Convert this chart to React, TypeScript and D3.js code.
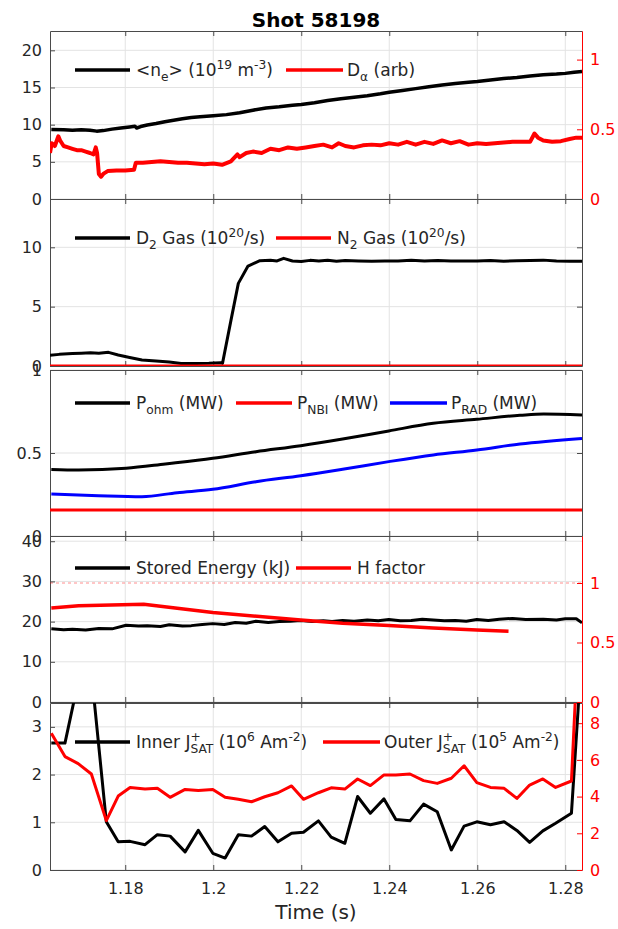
import React, { useRef, useEffect } from 'react';
import * as d3 from 'd3';

// ---------- data ----------
const xDomain = [1.1629, 1.2838];
const xTicks = [1.18, 1.2, 1.22, 1.24, 1.26, 1.28];

// panel 1: line averaged density and D-alpha
const neTime = [1.1632, 1.166, 1.168, 1.17, 1.172, 1.1735, 1.175, 1.177, 1.179, 1.181, 1.1822, 1.1826, 1.1835, 1.185, 1.187, 1.189, 1.191, 1.193, 1.195, 1.197, 1.2, 1.203, 1.206, 1.209, 1.212, 1.215, 1.218, 1.22, 1.223, 1.226, 1.229, 1.232, 1.235, 1.238, 1.24, 1.243, 1.246, 1.249, 1.252, 1.255, 1.258, 1.26, 1.263, 1.266, 1.269, 1.272, 1.275, 1.278, 1.28, 1.282, 1.2838];
const neValue = [9.35, 9.3, 9.25, 9.3, 9.25, 9.13, 9.2, 9.4, 9.55, 9.7, 9.8, 9.55, 9.75, 9.95, 10.15, 10.4, 10.6, 10.8, 10.95, 11.05, 11.2, 11.35, 11.6, 11.95, 12.25, 12.4, 12.6, 12.7, 12.95, 13.25, 13.5, 13.7, 13.9, 14.15, 14.35, 14.6, 14.85, 15.1, 15.35, 15.55, 15.7, 15.8, 16.0, 16.2, 16.35, 16.55, 16.7, 16.8, 16.9, 17.05, 17.15];

const daTime = [1.1629, 1.1633, 1.164, 1.1648, 1.1652, 1.166, 1.167, 1.168, 1.169, 1.17, 1.171, 1.172, 1.1728, 1.1733, 1.1736, 1.174, 1.1745, 1.175, 1.176, 1.178, 1.18, 1.182, 1.1824, 1.184, 1.186, 1.188, 1.19, 1.192, 1.194, 1.196, 1.198, 1.2, 1.202, 1.204, 1.2055, 1.206, 1.2075, 1.209, 1.211, 1.213, 1.215, 1.217, 1.219, 1.221, 1.223, 1.225, 1.227, 1.2285, 1.23, 1.232, 1.234, 1.236, 1.238, 1.24, 1.242, 1.244, 1.246, 1.248, 1.25, 1.252, 1.254, 1.256, 1.258, 1.26, 1.262, 1.264, 1.266, 1.268, 1.27, 1.272, 1.273, 1.2738, 1.275, 1.277, 1.279, 1.281, 1.2825, 1.2838];
const daValue = [0.33, 0.4, 0.38, 0.45, 0.42, 0.38, 0.37, 0.36, 0.35, 0.35, 0.34, 0.33, 0.32, 0.37, 0.33, 0.18, 0.16, 0.18, 0.2, 0.205, 0.205, 0.21, 0.26, 0.26, 0.265, 0.27, 0.265, 0.26, 0.26, 0.255, 0.25, 0.255, 0.245, 0.27, 0.32, 0.3, 0.33, 0.34, 0.33, 0.36, 0.35, 0.37, 0.36, 0.37, 0.38, 0.39, 0.37, 0.4, 0.38, 0.37, 0.385, 0.39, 0.385, 0.4, 0.39, 0.41, 0.39, 0.41, 0.395, 0.42, 0.4, 0.415, 0.39, 0.4, 0.395, 0.4, 0.405, 0.41, 0.41, 0.41, 0.47, 0.44, 0.42, 0.41, 0.415, 0.43, 0.44, 0.44];

// panel 2: gas puffing
const d2Time = [1.1629, 1.165, 1.168, 1.17, 1.1721, 1.174, 1.1762, 1.1784, 1.181, 1.1838, 1.187, 1.19, 1.1927, 1.196, 1.199, 1.2017, 1.2021, 1.204, 1.2057, 1.2079, 1.2106, 1.213, 1.2145, 1.216, 1.218, 1.22, 1.222, 1.224, 1.226, 1.228, 1.23, 1.233, 1.236, 1.239, 1.242, 1.245, 1.248, 1.251, 1.254, 1.257, 1.26, 1.263, 1.266, 1.269, 1.272, 1.275, 1.278, 1.281, 1.2838];
const d2Value = [0.9, 0.98, 1.05, 1.08, 1.12, 1.08, 1.15, 0.93, 0.72, 0.5, 0.42, 0.33, 0.22, 0.22, 0.23, 0.27, 0.22, 3.8, 6.96, 8.42, 8.87, 8.9, 8.85, 9.07, 8.85, 8.8, 8.9, 8.85, 8.9, 8.82, 8.88, 8.85, 8.83, 8.85, 8.85, 8.9, 8.85, 8.88, 8.85, 8.84, 8.85, 8.88, 8.83, 8.86, 8.88, 8.92, 8.85, 8.82, 8.82];
const n2Time = [1.1629, 1.2838];
const n2Value = [0, 0];

// panel 3: heating and radiated power
const pohmTime = [1.1632, 1.1694, 1.1802, 1.1891, 1.1999, 1.2097, 1.2199, 1.2294, 1.2399, 1.25, 1.2599, 1.2697, 1.2751, 1.2838];
const pohmValue = [0.4, 0.397, 0.408, 0.434, 0.468, 0.508, 0.544, 0.584, 0.633, 0.679, 0.703, 0.727, 0.735, 0.729];
const pnbiTime = [1.1629, 1.2838];
const pnbiValue = [0.157, 0.157];
const pradTime = [1.1632, 1.1739, 1.1838, 1.1918, 1.1999, 1.2097, 1.2199, 1.2294, 1.2399, 1.25, 1.2599, 1.2697, 1.2838];
const pradValue = [0.253, 0.243, 0.237, 0.261, 0.281, 0.327, 0.363, 0.402, 0.448, 0.488, 0.518, 0.554, 0.588];

// panel 4: stored energy and H factor
const wTime = [1.1632, 1.166, 1.168, 1.171, 1.174, 1.177, 1.1802, 1.183, 1.185, 1.188, 1.19, 1.193, 1.195, 1.1975, 1.1999, 1.2025, 1.205, 1.2075, 1.2097, 1.2125, 1.215, 1.2175, 1.2199, 1.2225, 1.225, 1.227, 1.2294, 1.232, 1.235, 1.2375, 1.2399, 1.2425, 1.245, 1.2475, 1.25, 1.2525, 1.255, 1.2575, 1.2599, 1.2625, 1.265, 1.268, 1.271, 1.275, 1.278, 1.28, 1.2825, 1.2838];
const wValue = [18.25, 18.0, 18.1, 17.9, 18.3, 18.2, 19.1, 18.9, 19.0, 18.8, 19.2, 18.9, 19.0, 19.3, 19.5, 19.3, 19.8, 19.6, 20.1, 19.8, 20.0, 20.1, 20.3, 20.0, 20.2, 20.0, 20.3, 20.1, 20.4, 20.2, 20.5, 20.2, 20.3, 20.6, 20.4, 20.2, 20.3, 20.1, 20.5, 20.3, 20.6, 20.8, 20.5, 20.6, 20.4, 20.7, 20.7, 19.7];
const hTime = [1.1632, 1.1694, 1.1842, 1.1999, 1.2199, 1.2294, 1.2399, 1.25, 1.2599, 1.2671];
const hValue = [0.789, 0.808, 0.822, 0.753, 0.689, 0.661, 0.642, 0.622, 0.606, 0.594];
const hReference = 1;

// panel 5: divertor ion saturation current
const jTime = [1.1632, 1.1663, 1.1693, 1.1723, 1.1757, 1.1784, 1.1811, 1.1845, 1.1873, 1.1902, 1.1936, 1.1966, 1.1999, 1.2027, 1.2057, 1.2087, 1.2117, 1.2147, 1.2178, 1.2205, 1.2239, 1.2268, 1.2299, 1.2328, 1.2357, 1.2388, 1.2415, 1.2447, 1.2478, 1.2509, 1.2541, 1.257, 1.2599, 1.263, 1.2661, 1.269, 1.2719, 1.2749, 1.2778, 1.2814, 1.2844];
const innerJsat = [2.66, 2.66, 3.95, 4.15, 1.01, 0.59, 0.6, 0.53, 0.74, 0.71, 0.38, 0.83, 0.35, 0.25, 0.74, 0.71, 0.91, 0.59, 0.77, 0.79, 1.03, 0.69, 0.56, 1.54, 1.19, 1.49, 1.06, 1.03, 1.38, 1.22, 0.42, 0.92, 1.01, 0.95, 1.01, 0.83, 0.58, 0.82, 0.98, 1.19, 5.5];
const outerJsat = [7.45, 6.18, 5.8, 5.23, 2.69, 4.03, 4.5, 4.41, 4.45, 3.96, 4.39, 4.33, 4.39, 3.96, 3.85, 3.72, 3.99, 4.21, 4.58, 3.85, 4.21, 4.48, 4.41, 4.96, 4.6, 5.18, 5.18, 5.23, 4.87, 4.72, 5.0, 5.68, 4.76, 4.5, 4.45, 3.9, 4.63, 4.96, 4.5, 4.85, 20];

// ---------- layout ----------
const WIDTH = 618;
const HEIGHT = 929;
const PLOT_LEFT = 50;
const PLOT_RIGHT = 582;
const FONT = "'DejaVu Sans', sans-serif";
const TEXT = '#262626';
const AXIS = '#4a4a4a';
const GRID = '#e3e3e3';
const RED = '#ff0000';
const BLUE = '#0000ff';
const TICK_FONT = 16;
const LEGEND_FONT = 17;

const panels = [
  {
    top: 31, bottom: 199,
    left: { domain: [0, 22.6], ticks: [0, 5, 10, 15, 20] },
    right: { domain: [0, 1.205], ticks: [0, 0.5, 1] },
    series: [
      { t: neTime, v: neValue, axis: 'left', color: 'black', width: 3.5 },
      { t: daTime, v: daValue, axis: 'right', color: RED, width: 4 },
    ],
    legendY: 70,
    legend: [
      { color: 'black', x0: 75, x1: 130, tx: 136, parts: [['<n', ''], ['e', 'sub'], ['> (10', ''], ['19', 'sup'], [' m', ''], ['-3', 'sup'], [')', '']] },
      { color: RED, x0: 286, x1: 343, tx: 347, parts: [['D', ''], ['α', 'sub'], [' (arb)', '']] },
    ],
  },
  {
    top: 199, bottom: 366,
    left: { domain: [0, 14.07], ticks: [0, 5, 10] },
    right: null,
    series: [
      { t: d2Time, v: d2Value, axis: 'left', color: 'black', width: 3 },
      { t: n2Time, v: n2Value, axis: 'left', color: RED, width: 3 },
    ],
    legendY: 238,
    legend: [
      { color: 'black', x0: 75, x1: 130, tx: 136, parts: [['D', ''], ['2', 'sub'], [' Gas (10', ''], ['20', 'sup'], ['/s)', '']] },
      { color: RED, x0: 276, x1: 331, tx: 337, parts: [['N', ''], ['2', 'sub'], [' Gas (10', ''], ['20', 'sup'], ['/s)', '']] },
    ],
  },
  {
    top: 370, bottom: 536,
    left: { domain: [0, 1], ticks: [0, 0.5, 1] },
    right: null,
    curve: true,
    series: [
      { t: pohmTime, v: pohmValue, axis: 'left', color: 'black', width: 3 },
      { t: pnbiTime, v: pnbiValue, axis: 'left', color: RED, width: 3 },
      { t: pradTime, v: pradValue, axis: 'left', color: BLUE, width: 3 },
    ],
    legendY: 403,
    legend: [
      { color: 'black', x0: 75, x1: 130, tx: 136, parts: [['P', ''], ['ohm', 'sub'], [' (MW)', '']] },
      { color: RED, x0: 236, x1: 292, tx: 297, parts: [['P', ''], ['NBI', 'sub'], [' (MW)', '']] },
      { color: BLUE, x0: 390, x1: 447, tx: 451, parts: [['P', ''], ['RAD', 'sub'], [' (MW)', '']] },
    ],
  },
  {
    top: 536, bottom: 702,
    left: { domain: [0, 41.3], ticks: [0, 10, 20, 30, 40] },
    right: { domain: [0, 1.395], ticks: [0, 0.5, 1] },
    refLine: hReference,
    series: [
      { t: wTime, v: wValue, axis: 'left', color: 'black', width: 3 },
      { t: hTime, v: hValue, axis: 'right', color: RED, width: 3.5 },
    ],
    legendY: 568,
    legend: [
      { color: 'black', x0: 75, x1: 130, tx: 136, parts: [['Stored Energy (kJ)', '']] },
      { color: RED, x0: 296, x1: 351, tx: 357, parts: [['H factor', '']] },
    ],
  },
  {
    top: 703, bottom: 870,
    left: { domain: [0, 3.5], ticks: [0, 1, 2, 3] },
    right: { domain: [0, 9.1], ticks: [0, 2, 4, 6, 8] },
    xLabels: true,
    series: [
      { t: jTime, v: innerJsat, axis: 'left', color: 'black', width: 3 },
      { t: jTime, v: outerJsat, axis: 'right', color: RED, width: 3 },
    ],
    legendY: 742,
    legend: [
      { color: 'black', x0: 75, x1: 130, tx: 136, parts: [['Inner J', ''], ['+|SAT', 'supsub'], [' (10', ''], ['6', 'sup'], [' Am', ''], ['-2', 'sup'], [')', '']] },
      { color: RED, x0: 323, x1: 380, tx: 384, parts: [['Outer J', ''], ['+|SAT', 'supsub'], [' (10', ''], ['5', 'sup'], [' Am', ''], ['-2', 'sup'], [')', '']] },
    ],
  },
];

// text with TeX-like sub/superscripts
function richText(g, x, y, parts, size) {
  const small = size * 0.72;
  const text = g.append('text')
    .attr('x', x).attr('y', y)
    .attr('font-size', size)
    .attr('fill', TEXT)
    .style('white-space', 'pre');
  let shift = 0;
  parts.forEach(([s, mode]) => {
    if (mode === 'supsub') {
      const [sup, sub] = s.split('|');
      text.append('tspan').attr('dy', -size * 0.42 - shift).attr('font-size', small).text(sup);
      text.append('tspan').attr('dx', -small * 0.838).attr('dy', size * 0.72).attr('font-size', small).text(sub);
      shift = size * 0.3;
      return;
    }
    const target = mode === 'sub' ? size * 0.3 : mode === 'sup' ? -size * 0.42 : 0;
    text.append('tspan')
      .attr('dy', target - shift)
      .attr('font-size', mode ? small : size)
      .text(s);
    shift = target;
  });
}

const App = () => {
  const svgRef = useRef(null);

  useEffect(() => {
    const svg = d3.select(svgRef.current);
    svg.selectAll('*').remove();
    svg.attr('width', WIDTH).attr('height', HEIGHT).style('font-family', FONT);

    svg.append('rect').attr('width', WIDTH).attr('height', HEIGHT).attr('fill', 'white');

    const x = d3.scaleLinear().domain(xDomain).range([PLOT_LEFT, PLOT_RIGHT]);

    const styleAxis = (sel, color, labelColor) => {
      sel.attr('font-family', FONT).attr('font-size', TICK_FONT);
      sel.select('.domain').attr('stroke', color);
      sel.selectAll('.tick line').attr('stroke', color);
      sel.selectAll('.tick text').attr('fill', labelColor);
    };

    panels.forEach((p, i) => {
      const g = svg.append('g');
      const yL = d3.scaleLinear().domain(p.left.domain).range([p.bottom, p.top]);
      const yR = p.right ? d3.scaleLinear().domain(p.right.domain).range([p.bottom, p.top]) : null;

      // grid
      g.append('g').selectAll('line').data(xTicks).join('line')
        .attr('x1', d => x(d)).attr('x2', d => x(d))
        .attr('y1', p.top).attr('y2', p.bottom)
        .attr('stroke', GRID);
      g.append('g').selectAll('line').data(p.left.ticks).join('line')
        .attr('x1', PLOT_LEFT).attr('x2', PLOT_RIGHT)
        .attr('y1', d => yL(d)).attr('y2', d => yL(d))
        .attr('stroke', GRID);

      // box + ticks
      g.append('g')
        .attr('transform', `translate(0,${p.top})`)
        .call(d3.axisTop(x).tickValues(xTicks).tickSize(-5).tickSizeOuter(0).tickFormat(() => ''))
        .call(s => styleAxis(s, AXIS, TEXT));
      g.append('g')
        .attr('transform', `translate(0,${p.bottom})`)
        .call(d3.axisBottom(x).tickValues(xTicks).tickSize(-5).tickSizeOuter(0).tickPadding(13)
          .tickFormat(d => (p.xLabels ? String(d) : '')))
        .call(s => styleAxis(s, AXIS, TEXT));
      g.append('g')
        .attr('transform', `translate(${PLOT_LEFT},0)`)
        .call(d3.axisLeft(yL).tickValues(p.left.ticks).tickSize(-5).tickSizeOuter(0).tickPadding(8)
          .tickFormat(d => String(d)))
        .call(s => styleAxis(s, AXIS, TEXT));
      if (yR) {
        g.append('g')
          .attr('transform', `translate(${PLOT_RIGHT},0)`)
          .call(d3.axisRight(yR).tickValues(p.right.ticks).tickSize(-5).tickSizeOuter(0).tickPadding(8)
            .tickFormat(d => String(d)))
          .call(s => styleAxis(s, RED, RED));
      } else {
        g.append('g')
          .attr('transform', `translate(${PLOT_RIGHT},0)`)
          .call(d3.axisRight(yL).tickValues(p.left.ticks).tickSize(-5).tickSizeOuter(0).tickFormat(() => ''))
          .call(s => styleAxis(s, AXIS, TEXT));
      }

      // data
      const clipId = `clip-${i}`;
      g.append('clipPath').attr('id', clipId)
        .append('rect')
        .attr('x', PLOT_LEFT).attr('y', p.top)
        .attr('width', PLOT_RIGHT - PLOT_LEFT).attr('height', p.bottom - p.top);
      const plot = g.append('g').attr('clip-path', `url(#${clipId})`);

      if (p.refLine !== undefined && yR) {
        plot.append('line')
          .attr('x1', PLOT_LEFT).attr('x2', PLOT_RIGHT)
          .attr('y1', yR(p.refLine)).attr('y2', yR(p.refLine))
          .attr('stroke', RED).attr('stroke-opacity', 0.45)
          .attr('stroke-dasharray', '3,3');
      }

      p.series.forEach(s => {
        const y = s.axis === 'right' ? yR : yL;
        const line = d3.line()
          .x(d => x(d[0]))
          .y(d => y(d[1]))
          .curve(p.curve ? d3.curveMonotoneX : d3.curveLinear);
        plot.append('path')
          .datum(d3.zip(s.t, s.v))
          .attr('fill', 'none')
          .attr('stroke', s.color)
          .attr('stroke-width', s.width)
          .attr('stroke-linejoin', 'round')
          .attr('d', line);
      });

      // legend
      const lg = g.append('g');
      p.legend.forEach(e => {
        lg.append('line')
          .attr('x1', e.x0).attr('x2', e.x1)
          .attr('y1', p.legendY).attr('y2', p.legendY)
          .attr('stroke', e.color).attr('stroke-width', 3.5);
        richText(lg, e.tx, p.legendY + LEGEND_FONT * 0.36, e.parts, LEGEND_FONT);
      });
    });

    // title and x label
    svg.append('text')
      .attr('x', (PLOT_LEFT + PLOT_RIGHT) / 2).attr('y', 27)
      .attr('text-anchor', 'middle')
      .attr('font-size', 20).attr('font-weight', 'bold')
      .attr('fill', 'black')
      .text('Shot 58198');
    svg.append('text')
      .attr('x', (PLOT_LEFT + PLOT_RIGHT) / 2).attr('y', 919)
      .attr('text-anchor', 'middle')
      .attr('font-size', 20)
      .attr('fill', TEXT)
      .text('Time (s)');
  }, []);

  return <svg ref={svgRef} style={{ position: 'absolute', left: 0, top: 0 }}></svg>;
};

export default App;
